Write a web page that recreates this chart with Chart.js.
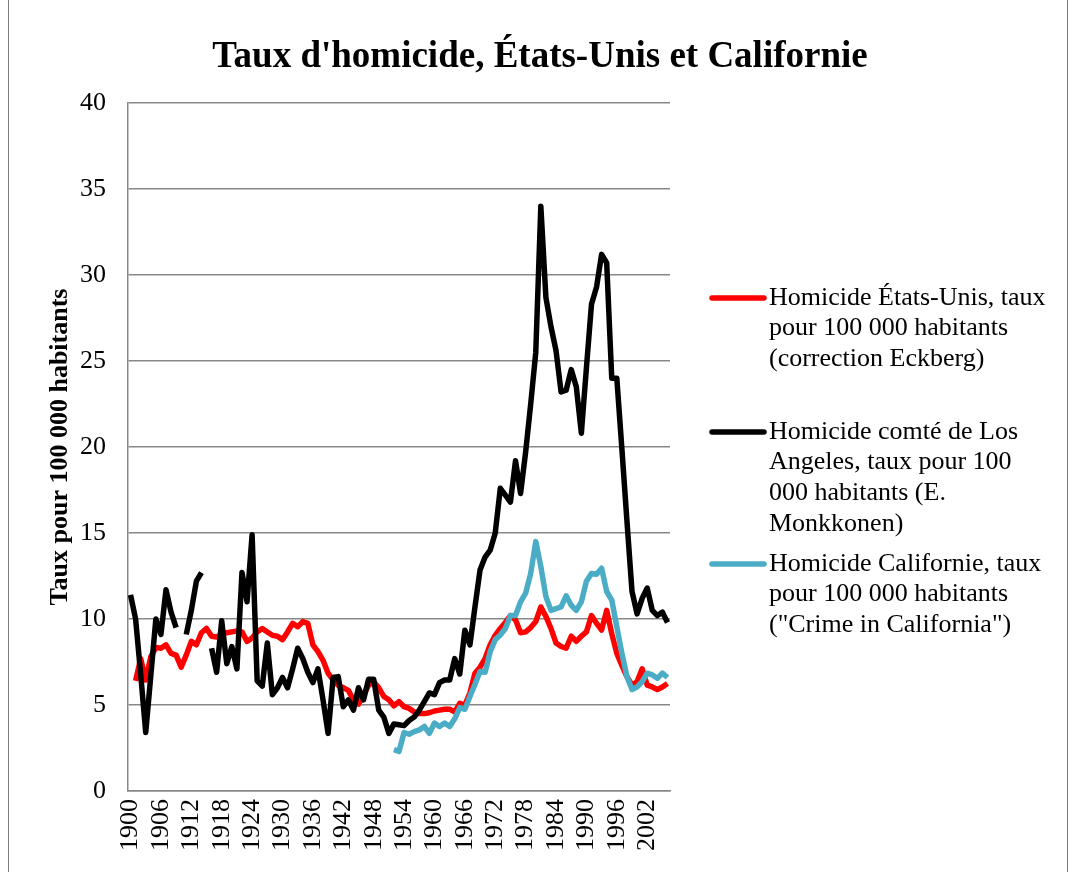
<!DOCTYPE html>
<html>
<head>
<meta charset="utf-8">
<script src="https://cdn.jsdelivr.net/npm/chart.js@4.4.1/dist/chart.umd.min.js"></script>
<style>
  html, body { margin: 0; padding: 0; background: #fff; }
  #wrap { width: 1072px; height: 872px; }
</style>
</head>
<body>
<div id="wrap"><canvas id="myChart" width="1072" height="872"></canvas></div>
<script>
// homicide rates per 100 000
const years = Array.from({ length: 107 }, (_, i) => 1900 + i);
const tickYears = [1900, 1906, 1912, 1918, 1924, 1930, 1936, 1942, 1948, 1954,
    1960, 1966, 1972, 1978, 1984, 1990, 1996, 2002];

const usRate = [
    null, 6.4, 7.7, 6.45, 7.8, 8.35, 8.3, 8.5, 8.0, 7.9,
    7.2, 7.9, 8.7, 8.5, 9.2, 9.45, 9.0, 8.95, 9.1, 9.2,
    9.25, 9.3, 9.25, 8.7, 8.9, 9.25, 9.45, 9.25, 9.05, 9.0,
    8.8, 9.25, 9.75, 9.55, 9.85, 9.75, 8.5, 8.1, 7.6, 6.85,
    6.45, 6.15, 6.0, 5.85, 5.3, 5.05, 5.6, 6.15, 6.35, 6.0,
    5.5, 5.3, 4.95, 5.2, 4.9, 4.8, 4.6, 4.5, 4.5, 4.55,
    4.65, 4.7, 4.75, 4.75, 4.6, 5.1, 5.0, 5.7, 6.85, 7.2,
    7.7, 8.5, 9.05, 9.45, 9.8, 10.2, 9.95, 9.2, 9.25, 9.5,
    9.85, 10.7, 10.15, 9.45, 8.6, 8.4, 8.3, 9.0, 8.7, 9.0,
    9.25, 10.2, 9.75, 9.36, 10.5, 9.15, 8.0, 7.3, 6.65, 6.15,
    6.35, 7.1, 6.15, 6.05, 5.9, 6.05, 6.25
];

const laRate = [
    11.4, 10.0, 6.8, 3.4, 6.7, 10.0, 9.1, 11.7, 10.4, 9.5,
    null, 9.1, 10.5, 12.2, 12.7, null, 8.3, 6.9, 9.9, 7.4,
    8.4, 7.1, 12.7, 11.0, 14.9, 6.4, 6.1, 8.6, 5.6, 6.0,
    6.6, 6.0, 7.1, 8.3, 7.7, 6.9, 6.3, 7.1, 5.3, 3.35,
    6.6, 6.65, 4.9, 5.3, 4.7, 6.0, 5.3, 6.5, 6.5, 4.7,
    4.3, 3.35, 3.9, 3.85, 3.8, 4.1, 4.3, 4.7, 5.2, 5.7,
    5.6, 6.3, 6.45, 6.45, 7.7, 6.8, 9.35, 8.5, 10.7, 12.85,
    13.6, 14.0, 15.0, 17.6, 17.2, 16.8, 19.2, 17.3, 19.7, 22.5,
    25.5, 34.0, 28.7, 27.0, 25.6, 23.2, 23.3, 24.5, 23.5, 20.8,
    24.6, 28.3, 29.3, 31.2, 30.7, 24.0, 24.0, 19.9, 15.7, 11.6,
    10.3, 11.2, 11.8, 10.5, 10.2, 10.4, 9.8
];

// California series only starts in 1952
const caStart = 1952;
const caRate = [
    2.4, 2.3, 3.4, 3.3, 3.45, 3.55, 3.75, 3.35,
    3.95, 3.75, 3.95, 3.75, 4.2, 4.85, 4.75, 5.5, 6.2, 6.95,
    6.9, 8.1, 8.8, 9.07, 9.45, 10.2, 10.2, 11.0, 11.5, 12.65,
    14.5, 13.05, 11.3, 10.5, 10.6, 10.7, 11.35, 10.8, 10.5, 11.0,
    12.2, 12.65, 12.6, 12.95, 11.6, 11.1, 9.55, 8.0, 6.65, 5.9,
    6.05, 6.35, 6.85, 6.75, 6.55, 6.85, 6.6
];

const chartTitle = "Taux d'homicide, États-Unis et Californie";
const seriesLabels = [
    "Homicide États-Unis, taux pour 100 000 habitants (correction Eckberg)",
    "Homicide comté de Los Angeles, taux pour 100 000 habitants (E. Monkkonen)",
    "Homicide Californie, taux pour 100 000 habitants (\"Crime in California\")"
];
// the legend wraps like in excel
const legendLines = [
    ["Homicide États-Unis, taux", "pour 100 000 habitants", "(correction Eckberg)"],
    ["Homicide comté de Los", "Angeles, taux pour 100", "000 habitants (E.", "Monkkonen)"],
    ["Homicide Californie, taux", "pour 100 000 habitants", "(\"Crime in California\")"]
];
const legendTops = [298, 432, 564];

const serif = "'Liberation Serif', 'Times New Roman', serif";
const gridGray = "#888888";

const caData = years.map(y => (y >= caStart ? caRate[y - caStart] : null));

const whiteBg = {
    id: "whiteBg",
    beforeDraw(chart) {
        const c = chart.ctx;
        c.save();
        c.fillStyle = "#fff";
        c.fillRect(0, 0, chart.width, chart.height);
        c.restore();
    }
};

// title + legend drawn by hand, the plot leaves room on the right for the legend
const sideLegend = {
    id: "sideLegend",
    afterDraw(chart) {
        const c = chart.ctx;
        c.save();
        c.fillStyle = "#000";
        c.font = "bold 37px " + serif;
        c.textAlign = "center";
        c.textBaseline = "middle";
        c.fillText(chartTitle, 540, 57);

        c.font = "26px " + serif;
        c.textAlign = "left";
        chart.data.datasets.forEach((ds, k) => {
            const y0 = legendTops[k];
            c.strokeStyle = ds.borderColor;
            c.lineWidth = 5.5;
            c.lineCap = "round";
            c.beginPath();
            c.moveTo(712, y0);
            c.lineTo(764, y0);
            c.stroke();
            c.fillStyle = "#000";
            legendLines[k].forEach((t, j) => c.fillText(t, 769, y0 + j * 30.6));
        });
        // chart area frame, only the sides show in the picture
        c.strokeStyle = "#7f7f7f";
        c.lineWidth = 1;
        c.strokeRect(8.5, -2, 1059, 880);
        c.restore();
    }
};

const ctx = document.getElementById("myChart").getContext("2d");

const chart = new Chart(ctx, {
    type: "line",
    data: {
        labels: years,
        datasets: [{
            label: seriesLabels[0],
            data: usRate,
            borderColor: "#ff0000",
            order: 3
        }, {
            label: seriesLabels[1],
            data: laRate,
            borderColor: "#000000",
            order: 2
        }, {
            label: seriesLabels[2],
            data: caData,
            borderColor: "#4bacc6",
            order: 1
        }]
    },
    options: {
        responsive: false,
        devicePixelRatio: 1,
        animation: false,
        layout: { padding: { left: 0, right: 402, top: 103, bottom: 0 } },
        elements: {
            line: { borderWidth: 5.5, tension: 0, borderJoinStyle: "round", borderCapStyle: "butt", fill: false },
            point: { radius: 0, hoverRadius: 0 }
        },
        spanGaps: false,
        plugins: {
            legend: { display: false },
            tooltip: { enabled: false },
            title: { display: false }
        },
        scales: {
            x: {
                type: "category",
                offset: true,
                grid: { display: false, drawTicks: false },
                border: { display: true, color: gridGray, width: 1.5 },
                ticks: {
                    autoSkip: false,
                    minRotation: 90,
                    maxRotation: 90,
                    padding: 8,
                    color: "#000",
                    font: { family: serif, size: 26 },
                    callback: function(value) {
                        const y = this.getLabelForValue(value);
                        return tickYears.includes(y) ? String(y) : "";
                    }
                },
                afterFit: function(scale) { scale.height = 81; }
            },
            y: {
                min: 0,
                max: 40,
                ticks: {
                    stepSize: 5,
                    padding: 22,
                    color: "#000",
                    font: { family: serif, size: 26 }
                },
                grid: { color: gridGray, lineWidth: 1.5, drawTicks: false },
                border: { display: true, color: gridGray, width: 1.5 },
                title: {
                    display: true,
                    text: "Taux pour 100 000 habitants",
                    color: "#000",
                    font: { family: serif, size: 26, weight: "bold" },
                    padding: { top: 45, bottom: 0 }
                },
                afterFit: function(scale) { scale.width = 128; }
            }
        }
    },
    plugins: [whiteBg, sideLegend]
});
</script>
</body>
</html>
